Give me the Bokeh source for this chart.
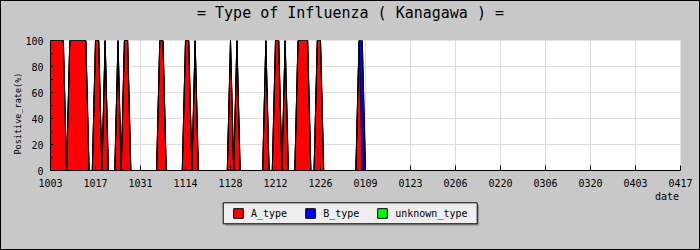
from bokeh.plotting import figure
from bokeh.layouts import column
from bokeh.models import (ColumnDataSource, FixedTicker, Legend, LegendItem,
                          Title, Label, BoxAnnotation)
from bokeh.embed import file_html
from bokeh.resources import INLINE

# ---------------- data ----------------
title_text = "= Type of Influenza ( Kanagawa ) ="
y_label = "Positive_rate(%)"
x_label = "date"
tick_labels = ["1003", "1017", "1031", "1114", "1128", "1212", "1226", "0109",
               "0123", "0206", "0220", "0306", "0320", "0403", "0417"]
series_names = ["A_type", "B_type", "unknown_type"]
series_colors = ["#ff0000", "#0000ff", "#00ff00"]

# daily positive rate (%) starting 10/03, one row per week
a_type = [
    100, 100, 100, 100, 100, 0, 100,
    100, 100, 100, 100, 100, 0, 0,
    100, 100, 0, 100, 0, 0, 0,
    100, 0, 100, 100, 0, 0, 0,
    0, 0, 0, 0, 0, 0, 100,
    100, 0, 0, 0, 0, 0, 0,
    100, 100, 0, 100, 0, 0, 0,
    0, 0, 0, 0, 0, 0, 0,
    100, 0, 100, 0, 0, 0, 0,
    0, 0, 0, 0, 100, 0, 0,
    100, 100, 0, 100, 0, 0, 0,
    100, 100, 100, 100, 0, 0, 100,
    100, 0, 0, 0, 0, 0, 0,
    0, 0, 0, 0, 0, 100, 0,
    0,
]
b_type = [
    0, 0, 0, 0, 0, 0, 0,
    0, 0, 0, 0, 0, 0, 0,
    0, 0, 0, 0, 0, 0, 0,
    0, 0, 0, 0, 0, 0, 0,
    0, 0, 0, 0, 0, 0, 0,
    0, 0, 0, 0, 0, 0, 0,
    0, 0, 0, 0, 0, 0, 0,
    0, 0, 0, 0, 0, 0, 0,
    0, 0, 0, 0, 0, 0, 0,
    0, 0, 0, 0, 0, 0, 0,
    0, 0, 0, 0, 0, 0, 0,
    0, 0, 0, 0, 0, 0, 0,
    0, 0, 0, 0, 0, 0, 0,
    0, 0, 0, 0, 0, 0, 100,
    0,
]
unknown_type = [
    0, 0, 0, 0, 0, 0, 0,
    0, 0, 0, 0, 0, 0, 0,
    0, 0, 0, 0, 0, 0, 0,
    0, 0, 0, 0, 0, 0, 0,
    0, 0, 0, 0, 0, 0, 0,
    0, 0, 0, 0, 0, 0, 0,
    0, 0, 0, 0, 0, 0, 0,
    0, 0, 0, 0, 0, 0, 0,
    0, 0, 0, 0, 0, 0, 0,
    0, 0, 0, 0, 0, 0, 0,
    0, 0, 0, 0, 0, 0, 0,
    0, 0, 0, 0, 0, 0, 0,
    0, 0, 0, 0, 0, 0, 0,
    0, 0, 0, 0, 0, 0, 0,
    0,
]
days = list(range(len(a_type)))          # day index from 10/03
tick_days = [14 * i for i in range(len(tick_labels))]

# ---------------- layout (page pixels; 1px black border round it) ----------
FONT = "DejaVu Sans Mono"
BG = "#c8c8c8"
GRID = "#dcdcdc"
W = 698                      # inner width (page x 1 .. 699)
TOP_H = 29                   # page y 1 .. 30
MAIN_H = 160                 # page y 30 .. 190
LEG_H = 59                   # page y 190 .. 249
FL, FR, FT, FB = 50, 680, 40, 170   # plot area in page pixels
NAN = float("nan")


def blank_fig(height, y0, y1):
    # strip whose data coordinates are page pixels (frame = page x FL..FR)
    f = figure(width=W, height=height, x_range=(FL, FR), y_range=(-y1, -y0),
               output_backend="svg", toolbar_location=None,
               x_axis_location=None, y_axis_location=None,
               min_border_left=FL - 1, min_border_right=(1 + W) - FR,
               min_border_top=0, min_border_bottom=0)
    f.border_fill_color = BG
    f.background_fill_color = BG
    f.outline_line_color = None
    f.grid.visible = False
    return f


# ---- title strip ----
top = blank_fig(TOP_H, 1, 1 + TOP_H)
top.add_layout(Label(x=350, y=-12.5, text=title_text, text_align="center",
                     text_baseline="middle", text_font=FONT,
                     text_font_size="15px", text_color="black"))

# ---- main chart ----
p = figure(width=W, height=MAIN_H, x_range=(tick_days[0], tick_days[-1]),
           y_range=(0, 100), output_backend="svg", toolbar_location=None,
           title=None,
           min_border_left=FL - 1, min_border_right=(1 + W) - FR,
           min_border_top=FT - 30, min_border_bottom=190 - FB)
p.border_fill_color = BG
p.background_fill_color = "white"
p.outline_line_color = None

src = ColumnDataSource(dict(day=days, A_type=a_type, B_type=b_type,
                            unknown_type=unknown_type))
p.varea_stack(series_names, x="day", color=series_colors, source=src)
p.vline_stack(series_names, x="day", color="black", line_width=1, source=src)

xa = p.xaxis[0]
ya = p.yaxis[0]
xa.ticker = FixedTicker(ticks=tick_days)
xa.major_label_overrides = {d: l for d, l in zip(tick_days, tick_labels)}
xa.major_tick_in = 5
xa.major_tick_out = 0
xa.minor_tick_in = 0
xa.minor_tick_out = 0
xa.major_label_standoff = 8
ya.ticker = FixedTicker(ticks=[0, 20, 40, 60, 80, 100],
                        minor_ticks=[10, 30, 50, 70, 90])
ya.major_tick_in = 3
ya.major_tick_out = 0
ya.minor_tick_in = 3
ya.minor_tick_out = 0
ya.major_label_standoff = 7
for ax in (xa, ya):
    ax.axis_line_color = "black"
    ax.major_tick_line_color = "black"
    ax.minor_tick_line_color = "black"
    ax.major_label_text_font = FONT
    ax.major_label_text_font_size = "10px"
    ax.major_label_text_color = "black"
p.xgrid.grid_line_color = GRID
p.ygrid.grid_line_color = GRID

p.add_layout(Title(text=y_label, align="left", offset=16, standoff=0,
                   vertical_align="bottom", text_font=FONT,
                   text_font_size="8.5px", text_font_style="normal",
                   text_color="black"), "left")

# ---- legend strip ----
leg = blank_fig(LEG_H, 190, 190 + LEG_H)
leg.add_layout(Label(x=678.6, y=-190, text=x_label, text_align="right",
                     text_baseline="top", text_font=FONT,
                     text_font_size="10px", text_color="black"))
leg.add_layout(BoxAnnotation(left=224.7, right=478.7, top=-204.3,
                             bottom=-225.3, fill_color="#9a9a9a", fill_alpha=1,
                             line_color=None))
leg.add_layout(BoxAnnotation(left=222.7, right=476.7, top=-202.3,
                             bottom=-223.3, fill_color="#eeeeee", fill_alpha=1,
                             line_color="black", line_alpha=1, line_width=1))
items = []
for name, col in zip(series_names, series_colors):
    # legend-only proxy (a single NaN box that draws nothing in the strip)
    r = leg.quad(left=[NAN], right=[NAN], top=[NAN], bottom=[NAN],
                 fill_color=col, line_color="black", line_width=1)
    items.append(LegendItem(label=name, renderers=[r]))
legend = Legend(items=items, orientation="horizontal",
                location=(232 - FL, 249 - 219), padding=0, margin=0,
                spacing=17, glyph_width=12, glyph_height=12, label_height=12,
                label_standoff=7, label_text_font=FONT,
                label_text_font_size="10px", label_text_color="black",
                background_fill_alpha=0, border_line_color=None)
leg.add_layout(legend)

layout = column(top, p, leg, spacing=0)
layout.styles = {"border": "1px solid black", "background-color": BG}

open("out.html", "w").write(file_html(layout, INLINE))
